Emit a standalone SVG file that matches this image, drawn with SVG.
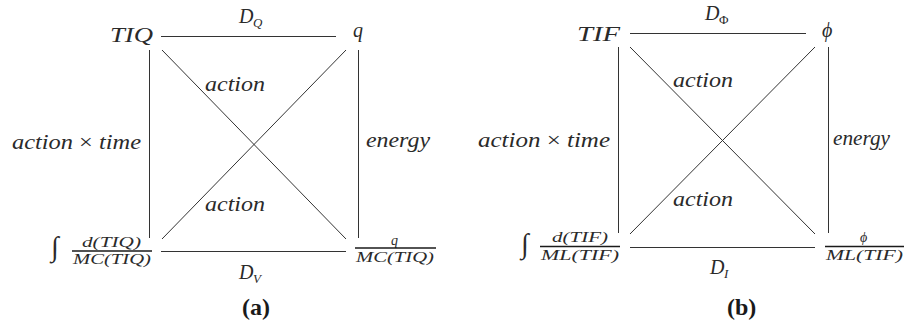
<svg xmlns="http://www.w3.org/2000/svg" width="913" height="324" viewBox="0 0 913 324">
<style>
.m{font-family:'Liberation Serif','Times New Roman',serif;font-style:italic;font-weight:normal;fill:#2a2a2a;font-size:20px}
.s{font-size:13px}
.f{font-size:14px}
.r{font-family:'Liberation Serif','Times New Roman',serif;font-style:normal;font-weight:normal;fill:#2a2a2a}
.cap{font-family:'Liberation Serif','Times New Roman',serif;font-weight:bold;font-size:24px;fill:#1a1a1a}
.e{stroke:#333;stroke-width:1;fill:none}
.bar{stroke:#1a1a1a;stroke-width:1.5}
</style>
<rect width="913" height="324" fill="#fff"/>
<g id="connectors">
  <line class="e" x1="161" y1="36.5" x2="336" y2="36.5"/>
  <line class="e" x1="149.5" y1="50" x2="149.5" y2="238"/>
  <line class="e" x1="358.5" y1="50" x2="358.5" y2="238"/>
  <line class="e" x1="162" y1="50" x2="346" y2="239"/>
  <line class="e" x1="346" y1="50" x2="162" y2="239"/>
  <line class="e" x1="161" y1="251.5" x2="346" y2="251.5"/>
  <line class="e" x1="630" y1="33.5" x2="806" y2="33.5"/>
  <line class="e" x1="618.5" y1="47" x2="618.5" y2="233"/>
  <line class="e" x1="828.5" y1="47" x2="828.5" y2="233"/>
  <line class="e" x1="630" y1="47" x2="815" y2="234"/>
  <line class="e" x1="815" y1="47" x2="630" y2="234"/>
  <line class="e" x1="630" y1="247.5" x2="815" y2="247.5"/>
</g>
<g id="edge-labels">
  <text class="m" x="239" y="23">D</text><text class="m s" x="253" y="27">Q</text>
  <text class="m" x="205" y="91" textLength="60" lengthAdjust="spacingAndGlyphs">action</text>
  <text class="m" x="12" y="149" textLength="129" lengthAdjust="spacingAndGlyphs">action <tspan class="r">×</tspan> time</text>
  <text class="m" x="366" y="147" textLength="64" lengthAdjust="spacingAndGlyphs">energy</text>
  <text class="m" x="205" y="211" textLength="60" lengthAdjust="spacingAndGlyphs">action</text>
  <text class="m" x="239" y="279">D</text><text class="m s" x="253" y="283">V</text>
  <text class="m" x="705" y="20">D</text><text class="r s" x="719" y="24">Φ</text>
  <text class="m" x="673" y="87" textLength="60" lengthAdjust="spacingAndGlyphs">action</text>
  <text class="m" x="478" y="147" textLength="132" lengthAdjust="spacingAndGlyphs">action <tspan class="r">×</tspan> time</text>
  <text class="m" x="833" y="145" textLength="57" lengthAdjust="spacingAndGlyphs">energy</text>
  <text class="m" x="673" y="206" textLength="60" lengthAdjust="spacingAndGlyphs">action</text>
  <text class="m" x="710" y="274">D</text><text class="m s" x="724" y="278">I</text>
</g>
<g id="node-TIQ"><text class="m" x="110" y="42" textLength="43" lengthAdjust="spacingAndGlyphs">TIQ</text></g>
<g id="node-q"><text class="m" x="353" y="37">q</text></g>
<g id="node-intTIQ">
  <text class="r" x="51" y="256" font-size="28">∫</text>
  <text class="m f" x="82" y="247" textLength="59" lengthAdjust="spacingAndGlyphs">d(TIQ)</text>
  <line class="bar" x1="72" y1="251" x2="152" y2="251"/>
  <text class="m f" x="73" y="264" textLength="78" lengthAdjust="spacingAndGlyphs">MC(TIQ)</text>
</g>
<g id="node-qMC">
  <text class="m f" x="391" y="245">q</text>
  <line class="bar" x1="355" y1="248" x2="436" y2="248"/>
  <text class="m f" x="356" y="262" textLength="78" lengthAdjust="spacingAndGlyphs">MC(TIQ)</text>
</g>
<g id="node-TIF"><text class="m" x="577" y="41" textLength="43" lengthAdjust="spacingAndGlyphs">TIF</text></g>
<g id="node-phi"><text class="m" x="822" y="37">ϕ</text></g>
<g id="node-intTIF">
  <text class="r" x="521" y="253" font-size="28">∫</text>
  <text class="m f" x="552" y="242" textLength="56" lengthAdjust="spacingAndGlyphs">d(TIF)</text>
  <line class="bar" x1="540" y1="246.5" x2="620" y2="246.5"/>
  <text class="m f" x="541" y="260" textLength="78" lengthAdjust="spacingAndGlyphs">ML(TIF)</text>
</g>
<g id="node-phiML">
  <text class="m f" x="860" y="242">ϕ</text>
  <line class="bar" x1="825" y1="246.5" x2="904" y2="246.5"/>
  <text class="m f" x="826" y="260" textLength="77" lengthAdjust="spacingAndGlyphs">ML(TIF)</text>
</g>
<g id="captions">
  <text class="cap" x="242" y="315">(a)</text>
  <text class="cap" x="727" y="315">(b)</text>
</g>
</svg>
